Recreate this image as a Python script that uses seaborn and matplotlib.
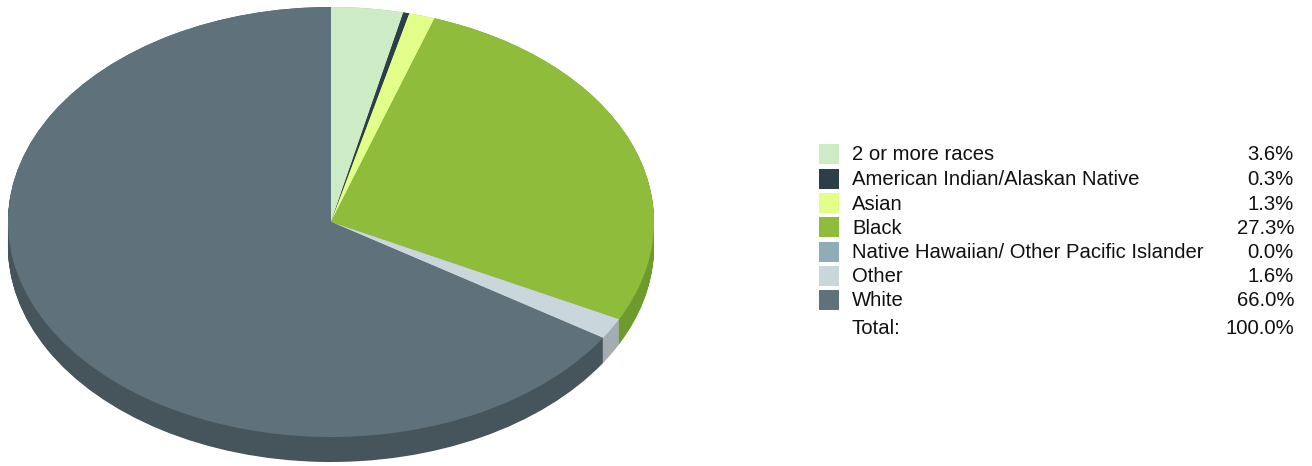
import numpy as np
import matplotlib
matplotlib.use("Agg")
import matplotlib.pyplot as plt
import seaborn as sns
from matplotlib.patches import Rectangle

sns.set_theme(style="white")
plt.rcParams['font.family'] = ['Liberation Sans', 'DejaVu Sans']

# race breakdown, percent
races = ["2 or more races", "American Indian/Alaskan Native", "Asian", "Black",
         "Native Hawaiian/ Other Pacific Islander", "Other", "White"]
shares = [3.6, 0.3, 1.3, 27.3, 0.0, 1.6, 66.0]
total_label = "100.0%"

top_colors = ["#cdebc5", "#2c3f48", "#e2ff8a", "#8fbd3b", "#8fadb9", "#c9d7dd", "#5f727b"]
side_colors = ["#a6bf9f", "#1f2c33", "#b5cc6e", "#6f9a2e", "#6f8891", "#a3acb0", "#46555c"]

W, H = 1312, 466
fig = plt.figure(figsize=(W / 100, H / 100), dpi=100)

# pie axes: x radius 323 px, y radius 215 px, depth 25 px
depth = 25 / 215
ax = fig.add_axes([8 / W, 4 / H, 646 / W, 455 / H])

# side of the 3d pie: stack of darker pies shifted down
for dy in np.linspace(depth, 0, 40):
    ax.pie(shares, colors=side_colors, startangle=90, counterclock=False,
           center=(0, -dy), radius=1, wedgeprops=dict(linewidth=0, antialiased=True))
# top face
ax.pie(shares, colors=top_colors, startangle=90, counterclock=False,
       center=(0, 0), radius=1, wedgeprops=dict(linewidth=0, antialiased=True))
ax.set_aspect('auto')
ax.set_xlim(-1, 1)
ax.set_ylim(-1 - depth, 1)
ax.axis('off')

# legend table
fs = 14.6
row_y = [154, 178.5, 203, 227, 251.5, 276, 300]
for name, val, col, y in zip(races, shares, top_colors, row_y):
    fig.patches.append(Rectangle((819 / W, 1 - (y + 10) / H), 20 / W, 20 / H,
                                 transform=fig.transFigure, facecolor=col,
                                 edgecolor='none'))
    fig.text(852 / W, 1 - (y + 1) / H, name, fontsize=fs, va='center', ha='left', color='#111111')
    fig.text(1294 / W, 1 - (y + 1) / H, f"{val:.1f}%", fontsize=fs, va='center', ha='right', color='#111111')
fig.text(852 / W, 1 - 329 / H, "Total:", fontsize=fs, va='center', ha='left', color='#111111')
fig.text(1294 / W, 1 - 329 / H, total_label, fontsize=fs, va='center', ha='right', color='#111111')

fig.savefig("out.png", dpi=100)
